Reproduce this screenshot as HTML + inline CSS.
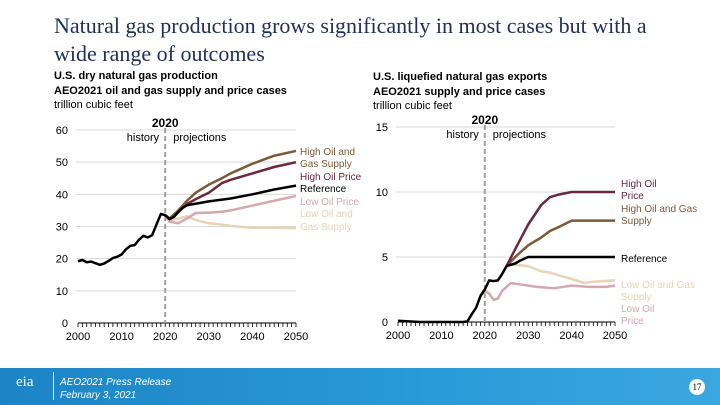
<!DOCTYPE html>
<html><head><meta charset="utf-8"><style>
body{margin:0;width:720px;height:405px;overflow:hidden;background:#fff;font-family:"Liberation Sans",sans-serif;position:relative}
.t{position:absolute;left:54px;top:12px;font-family:"Liberation Serif",serif;font-size:22px;line-height:28px;color:#1f2f5a}
.st{position:absolute;font-size:11px;line-height:14.5px;color:#000}
.st b{font-weight:bold}
#foot{position:absolute;left:0;top:368px;width:720px;height:37px;background:linear-gradient(90deg,#1c84c6,#2a9ad8 60%,#3aa7e0)}
</style></head><body>
<div class="t">Natural gas production grows significantly in most cases but with a<br>wide range of outcomes</div>
<div class="st" style="left:54px;top:69px"><b>U.S. dry natural gas production<br>AEO2021 oil and gas supply and price cases</b><br>trillion cubic feet</div>
<div class="st" style="left:373px;top:70px"><b>U.S. liquefied natural gas exports<br>AEO2021 supply and price cases</b><br>trillion cubic feet</div>
<svg id="c" width="720" height="405" style="position:absolute;left:0;top:0" font-family="Liberation Sans, sans-serif"></svg>
<div id="foot">
<div style="position:absolute;left:16px;top:6px;color:#fff;font-size:15px;font-family:'Liberation Serif',serif">eia</div>
<div style="position:absolute;left:53px;top:4px;width:1px;height:28px;background:#cfe8f7"></div>
<div style="position:absolute;left:60px;top:8px;color:#fff;font-size:10px;font-style:italic;line-height:13px">AEO2021 Press Release<br>February 3, 2021</div>
<div style="position:absolute;left:689px;top:11px;width:16px;height:16px;border-radius:50%;background:#fff;font-size:9px;text-align:center;line-height:16px;font-family:'Liberation Serif',serif">17</div>
</div>
<script>
const leftYears=[2000,2001,2002,2003,2004,2005,2006,2007,2008,2009,2010,2011,2012,2013,2014,2015,2016,2017,2018,2019,2020,2021,2022,2023,2024,2025,2030,2035,2040,2045,2050];
const leftRef=[19.2,19.6,18.9,19.1,18.6,18.1,18.5,19.3,20.2,20.6,21.3,22.9,24.0,24.2,25.9,27.1,26.6,27.3,30.6,33.9,33.5,32.3,33,34.5,35.8,36.6,37.8,38.7,40,41.5,42.7];
const projYearsL=[2020,2021,2023,2025,2027,2030,2033,2035,2040,2045,2050];
const leftHOGS=[33.5,32.5,35,38,40.5,43,45,46.5,49.5,52,53.5];
const leftHOP=[33.5,32.5,34.5,37,38.5,40.5,43.5,44.5,46.5,48.5,50];
const leftLOP=[33.5,31.5,31,32.5,34.2,34.3,34.6,35,36.5,38,39.5];
const leftLOGS=[33.5,31.8,32.5,33.2,32,31,30.6,30.2,29.6,29.6,29.5];
const rightHistYears=[2000,2005,2010,2015,2016,2017,2018,2019,2020,2021,2022,2023,2024,2025,2026,2027,2028,2030,2040,2050];
const rightRef=[0.1,0,0,0,0.05,0.6,1.1,2.0,2.5,3.2,3.15,3.2,3.7,4.3,4.4,4.5,4.7,5.0,5.0,5.0];
const rightProjYears=[2025,2027,2030,2033,2035,2037,2040,2043,2045,2050];
const rightHOP=[4.3,5.6,7.5,9.0,9.6,9.8,10.0,10.0,10.0,10.0];
const rightHOGS=[4.3,5.0,5.9,6.5,7.0,7.3,7.8,7.8,7.8,7.8];
const rightLOGS=[4.4,4.4,4.3,3.9,3.8,3.6,3.3,3.0,3.1,3.2];
const lopYears=[2020,2021,2022,2023,2024,2026,2028,2032,2036,2040,2044,2048,2050];
const rightLOP=[2.4,2.2,1.7,1.8,2.4,3.0,2.9,2.7,2.6,2.8,2.7,2.7,2.8];
const leftTicks=[0,10,20,30,40,50,60], rightTicks=[0,5,10,15], xTicks=[2000,2010,2020,2030,2040,2050];
const svg=document.getElementById('c'),NS='http://www.w3.org/2000/svg';
function el(t,a,p){const e=document.createElementNS(NS,t);for(const k in a)e.setAttribute(k,a[k]);(p||svg).appendChild(e);return e;}
function txt(x,y,s,a,p){const e=el('text',Object.assign({x:x,y:y},a),p);e.textContent=s;return e;}
function chart(name,x0,x1,yb,yt,ymax,ticks){
 const g=el('g',{});
 const X=v=>x0+(v-2000)/50*(x1-x0), Y=v=>yb-v/ymax*(yb-yt);
 ticks.forEach(t=>{if(t>0){const l=el('line',{x1:x0-2,x2:x1,y1:Y(t),y2:Y(t),stroke:'#d9d9d9','stroke-width':1},g);}
  const tt=txt(x0-10,Y(t)+4,t,{'font-size':11,'text-anchor':'end',fill:'#000'},g);});
 el('line',{x1:x0,x2:x1,y1:yb,y2:yb,stroke:'#000','stroke-width':1},g);
 for(let y=2000;y<=2050;y++)el('line',{x1:X(y),x2:X(y),y1:yb,y2:yb+4,stroke:'#000','stroke-width':0.8},g);
 xTicks.forEach(t=>{const tt=txt(X(t),yb+17,t,{'font-size':11,'text-anchor':'middle'},g);});
 const d=el('line',{x1:X(2020),x2:X(2020),y1:yt-2,y2:yb,stroke:'#a0a0a0','stroke-width':2,'stroke-dasharray':'5,3'},g);
 
 txt(X(2020),yt-3,'2020',{'font-size':12,'font-weight':'bold','text-anchor':'middle'},g);
 txt(X(2020)-6,yt+11,'history',{'font-size':11,'text-anchor':'end'},g);
 txt(X(2020)+8,yt+11,'projections',{'font-size':11},g);
 return {g,X,Y};
}
function line(c,xs,ys,col,name,w){const p=el('polyline',{points:xs.map((x,i)=>c.X(x)+','+c.Y(ys[i])).join(' '),fill:'none',stroke:col,'stroke-width':w||2.5,'stroke-linejoin':'round'},c.g);
 }
const C={hogs:'#7b5a36',hop:'#6b2a3b',ref:'#000',lop:'#d5a7b0',logs:'#e8d3b5'};
const L=chart('left-chart',78,296,323,130,60,leftTicks);
line(L,projYearsL,leftLOGS,C.logs,'series-low-oil-gas-supply');
line(L,projYearsL,leftLOP,C.lop,'series-low-oil-price');
line(L,projYearsL,leftHOP,C.hop,'series-high-oil-price');
line(L,projYearsL,leftHOGS,C.hogs,'series-high-oil-gas-supply');
line(L,leftYears,leftRef,C.ref,'series-reference');
[['High Oil and',151,C.hogs],['Gas Supply',163,C.hogs],['High Oil Price',176,C.hop],['Reference',188,'#000'],['Low Oil Price',201,C.lop],['Low Oil and',213,C.logs],['Gas Supply',226,C.logs]].forEach(a=>{const t=txt(300,a[1]+4,a[0],{'font-size':10,fill:a[2]},L.g);});
const R=chart('right-chart',398,615,322,127,15,rightTicks);
line(R,lopYears,rightLOP,C.lop,'series-low-oil-price');
line(R,rightProjYears,rightLOGS,C.logs,'series-low-oil-gas-supply');
line(R,rightProjYears,rightHOGS,C.hogs,'series-high-oil-gas-supply');
line(R,rightProjYears,rightHOP,C.hop,'series-high-oil-price');
line(R,rightHistYears,rightRef,C.ref,'series-reference');
[['High Oil',183,C.hop],['Price',195,C.hop],['High Oil and Gas',208,C.hogs],['Supply',220,C.hogs],['Reference',258,'#000'],['Low Oil and Gas',284,C.logs],['Supply',296,C.logs],['Low Oil',308,C.lop],['Price',320,C.lop]].forEach(a=>{const t=txt(621,a[1]+4,a[0],{'font-size':10,fill:a[2]},R.g);});
</script>
</body></html>
